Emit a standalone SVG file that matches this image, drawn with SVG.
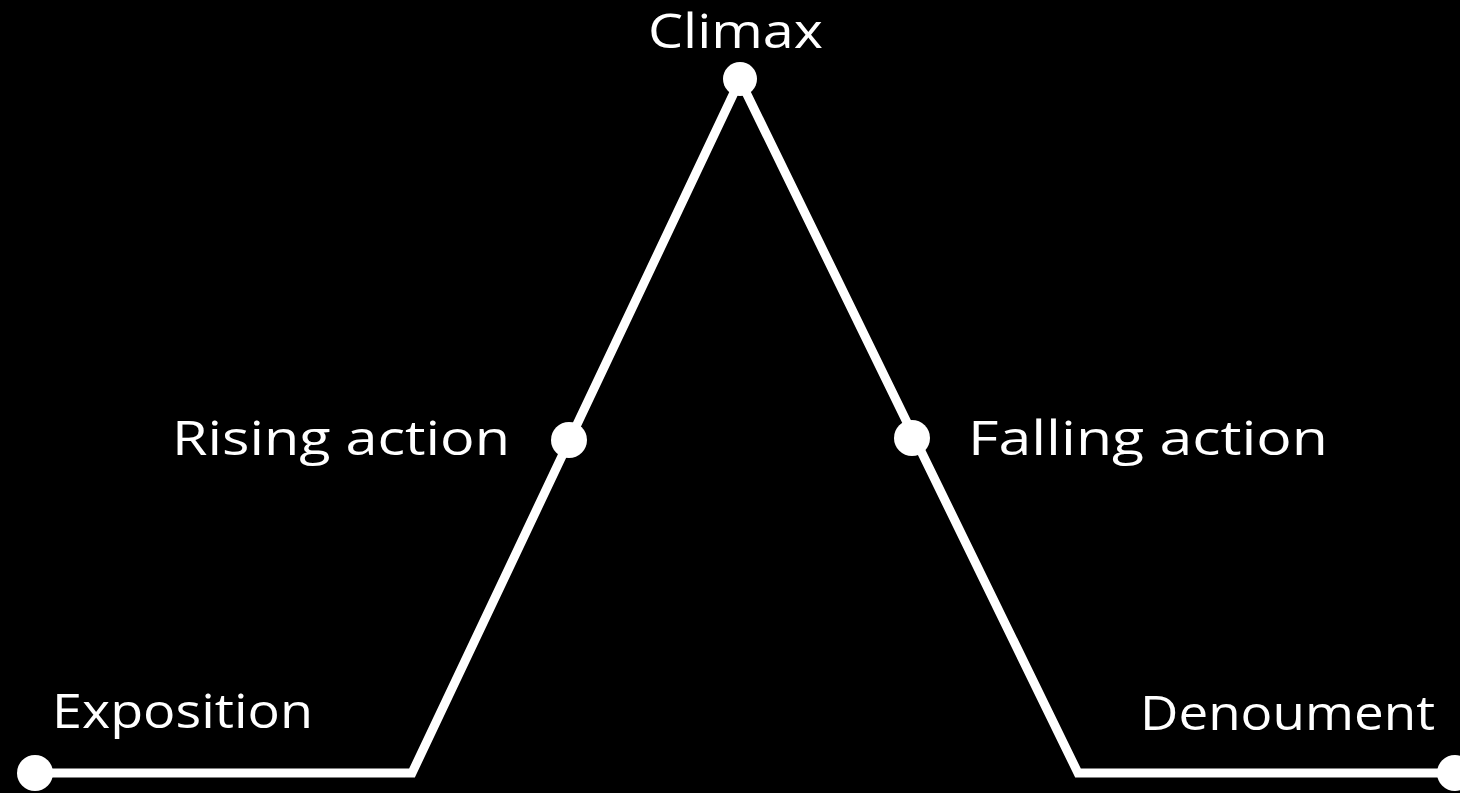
<svg xmlns="http://www.w3.org/2000/svg" width="1460" height="793" viewBox="0 0 1460 793">
  <style>
    .lbl { fill: #ffffff; font-family: "Open Sans", "Noto Sans", "Liberation Sans", sans-serif; font-size: 48px; font-variant-ligatures: none; }
    .dot { fill: #ffffff; }
    .line { fill: none; stroke: #ffffff; stroke-width: 9; stroke-linejoin: miter; }
  </style>
  <rect x="0" y="0" width="1460" height="793" fill="#000000"/>
  <g id="connectors">
    <polyline class="line" points="35,773 412,773 740,80 1078,773 1455,773"/>
  </g>
  <g id="exposition">
    <circle class="dot" cx="35" cy="773" r="18"/>
    <text class="lbl" x="52" y="728" textLength="261" lengthAdjust="spacingAndGlyphs">Exposition</text>
  </g>
  <g id="rising-action">
    <circle class="dot" cx="569" cy="440" r="18"/>
    <text class="lbl" x="172" y="455" textLength="338" lengthAdjust="spacingAndGlyphs">Rising action</text>
  </g>
  <g id="climax">
    <circle class="dot" cx="740" cy="79" r="17"/>
    <text class="lbl" x="648" y="48" textLength="175" lengthAdjust="spacingAndGlyphs">Climax</text>
  </g>
  <g id="falling-action">
    <circle class="dot" cx="912" cy="438" r="18"/>
    <text class="lbl" x="968" y="455" textLength="360" lengthAdjust="spacingAndGlyphs">Falling action</text>
  </g>
  <g id="denoument">
    <circle class="dot" cx="1455" cy="773" r="18"/>
    <text class="lbl" x="1140" y="730" textLength="295" lengthAdjust="spacingAndGlyphs">Denoument</text>
  </g>
</svg>
